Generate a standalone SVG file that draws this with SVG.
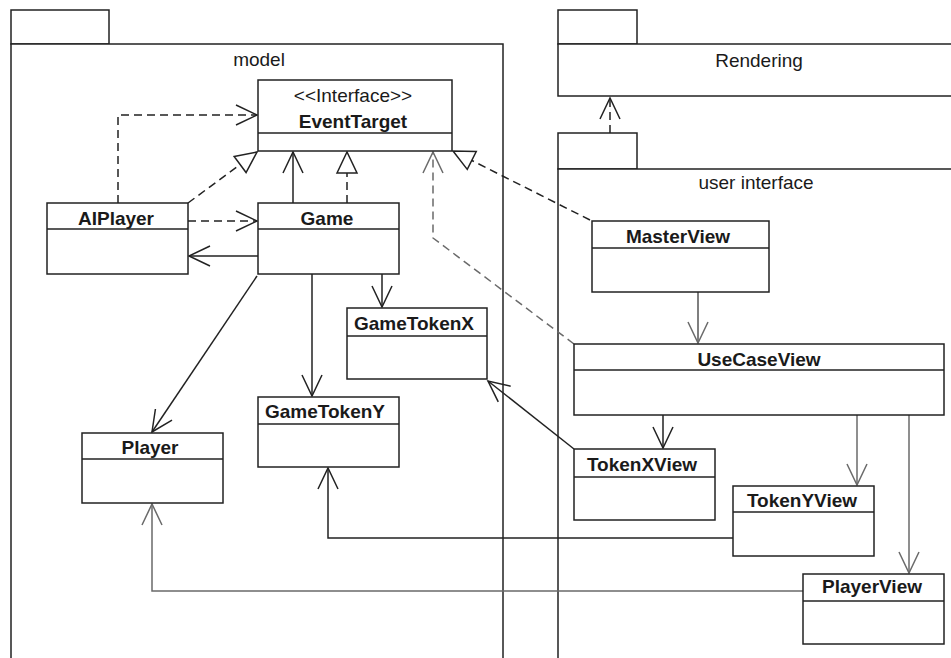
<svg xmlns="http://www.w3.org/2000/svg" width="951" height="658" viewBox="0 0 951 658">
<style>
.pkg{fill:#fff;stroke:#222;stroke-width:1.5}
.box{fill:#fff;stroke:#222;stroke-width:1.5}
.ln{fill:none;stroke:#222;stroke-width:1.5}
.gr{stroke:#6a6a6a}
.dash{stroke-dasharray:8 5}
.t{font-family:"Liberation Sans",Arial,sans-serif;font-size:19px;fill:#1a1a1a;text-anchor:middle}
.b{font-weight:bold}
</style>
<defs>
<marker id="arr" markerUnits="userSpaceOnUse" markerWidth="30" markerHeight="30" viewBox="-25 -15 30 30" refX="0" refY="0" orient="auto" overflow="visible">
<path d="M-21,-10 L0,0 L-21,10" fill="none" stroke="#222" stroke-width="1.5"/>
</marker>
<marker id="arrg" markerUnits="userSpaceOnUse" markerWidth="30" markerHeight="30" viewBox="-25 -15 30 30" refX="0" refY="0" orient="auto" overflow="visible">
<path d="M-21,-10 L0,0 L-21,10" fill="none" stroke="#6a6a6a" stroke-width="1.5"/>
</marker>
<marker id="tri" markerUnits="userSpaceOnUse" markerWidth="30" markerHeight="30" viewBox="-25 -15 30 30" refX="0" refY="0" orient="auto" overflow="visible">
<path d="M-21,-10 L0,0 L-21,10 Z" fill="#fff" stroke="#222" stroke-width="1.5"/>
</marker>
</defs>
<rect width="951" height="658" fill="#fff"/>

<g id="pkg-model">
<rect class="pkg" x="11" y="10" width="98" height="34"/>
<rect class="pkg" x="11" y="44" width="492" height="630"/>
<text class="t" x="259" y="66">model</text>
</g>
<g id="pkg-rendering">
<rect class="pkg" x="558" y="10" width="79" height="34"/>
<rect class="pkg" x="558" y="44" width="400" height="52"/>
<text class="t" x="759" y="67">Rendering</text>
</g>
<g id="pkg-ui">
<rect class="pkg" x="558" y="133" width="79" height="36"/>
<rect class="pkg" x="558" y="169" width="400" height="500"/>
<text class="t" x="756" y="189">user interface</text>
</g>

<g id="connectors">
<path class="ln dash" d="M610,133 V98" marker-end="url(#arr)"/>
<path class="ln dash" d="M118,203 V115 H257" marker-end="url(#arr)"/>
<path class="ln dash" d="M188,203 L257,152" marker-end="url(#tri)"/>
<path class="ln" d="M293,203 V152" marker-end="url(#arr)"/>
<path class="ln dash" d="M347,203 V152" marker-end="url(#tri)"/>
<path class="ln dash" d="M188,221 H257" marker-end="url(#arr)"/>
<path class="ln" d="M258,256 H189" marker-end="url(#arr)"/>
<path class="ln dash gr" d="M574,344 L433,238 V152" marker-end="url(#arrg)"/>
<path class="ln dash" d="M590,220 L453,151" marker-end="url(#tri)"/>
<path class="ln" d="M382,274 V307" marker-end="url(#arr)"/>
<path class="ln" d="M312,274 V396" marker-end="url(#arr)"/>
<path class="ln" d="M257,276 L152,432" marker-end="url(#arr)"/>
<path class="ln" d="M698,292 V343" marker-end="url(#arrg)" style="stroke:#555"/>
<path class="ln" d="M663,415 V448" marker-end="url(#arr)"/>
<path class="ln gr" d="M857,415 V485" marker-end="url(#arrg)"/>
<path class="ln gr" d="M909,415 V573" marker-end="url(#arrg)"/>
<path class="ln" d="M574,449 L488,381" marker-end="url(#arr)"/>
<path class="ln" d="M733,538 H328 V468" marker-end="url(#arr)"/>
<path class="ln gr" d="M803,591 H152 V504" marker-end="url(#arrg)"/>
</g>

<g id="EventTarget">
<rect class="box" x="258" y="80" width="194" height="71"/>
<line class="ln" x1="258" y1="133" x2="452" y2="133"/>
<text class="t" x="353" y="102">&lt;&lt;Interface&gt;&gt;</text>
<text class="t b" x="353" y="128">EventTarget</text>
</g>
<g id="AIPlayer">
<rect class="box" x="47" y="203" width="141" height="71"/>
<line class="ln" x1="47" y1="229" x2="188" y2="229"/>
<text class="t b" x="116" y="225">AIPlayer</text>
</g>
<g id="Game">
<rect class="box" x="258" y="203" width="141" height="71"/>
<line class="ln" x1="258" y1="229" x2="399" y2="229"/>
<text class="t b" x="327" y="225">Game</text>
</g>
<g id="GameTokenX">
<rect class="box" x="347" y="308" width="140" height="71"/>
<line class="ln" x1="347" y1="336" x2="487" y2="336"/>
<text class="t b" x="414" y="330">GameTokenX</text>
</g>
<g id="GameTokenY">
<rect class="box" x="258" y="397" width="141" height="70"/>
<line class="ln" x1="258" y1="424" x2="399" y2="424"/>
<text class="t b" x="325" y="418">GameTokenY</text>
</g>
<g id="Player">
<rect class="box" x="82" y="433" width="141" height="70"/>
<line class="ln" x1="82" y1="459" x2="223" y2="459"/>
<text class="t b" x="150" y="454">Player</text>
</g>
<g id="MasterView">
<rect class="box" x="592" y="221" width="177" height="71"/>
<line class="ln" x1="592" y1="248" x2="769" y2="248"/>
<text class="t b" x="678" y="243">MasterView</text>
</g>
<g id="UseCaseView">
<rect class="box" x="574" y="344" width="370" height="71"/>
<line class="ln" x1="574" y1="370" x2="944" y2="370"/>
<text class="t b" x="759" y="366">UseCaseView</text>
</g>
<g id="TokenXView">
<rect class="box" x="574" y="449" width="141" height="71"/>
<line class="ln" x1="574" y1="477" x2="715" y2="477"/>
<text class="t b" x="642" y="471">TokenXView</text>
</g>
<g id="TokenYView">
<rect class="box" x="733" y="486" width="141" height="70"/>
<line class="ln" x1="733" y1="512" x2="874" y2="512"/>
<text class="t b" x="802" y="507">TokenYView</text>
</g>
<g id="PlayerView">
<rect class="box" x="803" y="574" width="141" height="70"/>
<line class="ln" x1="803" y1="601" x2="944" y2="601"/>
<text class="t b" x="872" y="593">PlayerView</text>
</g>
</svg>
